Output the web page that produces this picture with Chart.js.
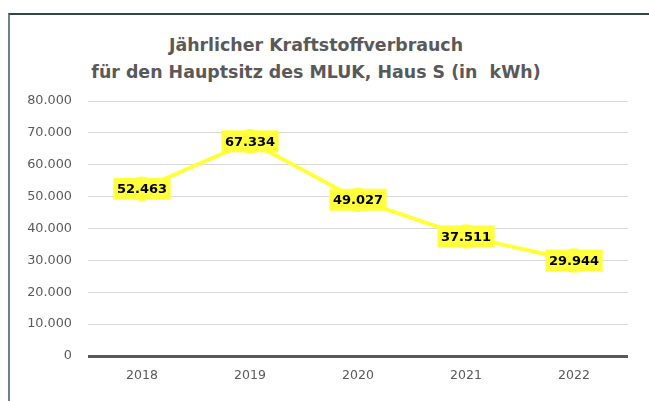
<!DOCTYPE html>
<html><head><meta charset="utf-8">
<script src="https://cdn.jsdelivr.net/npm/chart.js@4"></script>
<style>
html,body{margin:0;padding:0;background:#fff;width:649px;height:401px;overflow:hidden;}
#frame{position:absolute;left:8px;top:13px;width:660px;height:420px;border-top:2px solid #34454d;border-left:2px solid #6b818c;}
#title{position:absolute;left:0;top:32px;width:632px;text-align:center;font-family:"DejaVu Sans",sans-serif;font-weight:bold;font-size:17.4px;line-height:27px;color:#595959;white-space:pre;}
#wrap{position:absolute;left:0;top:0;width:649px;height:401px;}
</style></head>
<body>
<div id="frame"></div>
<div id="title">Jährlicher Kraftstoffverbrauch
für den Hauptsitz des MLUK, Haus S (in  kWh)</div>
<div id="wrap"><canvas id="c" width="649" height="401"></canvas></div>
<script>
const categories = ['2018','2019','2020','2021','2022'];
const values = [52463, 67334, 49027, 37511, 29944];
const yTicks = [0,10000,20000,30000,40000,50000,60000,70000,80000];

function fmt(v){ return v===0 ? '0' : v.toLocaleString('de-DE'); }

const labelPlugin = {
  id:'boxLabels',
  afterDatasetsDraw(chart){
    const ctx = chart.ctx;
    const meta = chart.getDatasetMeta(0);
    ctx.save();
    ctx.font = 'bold 13px "DejaVu Sans", sans-serif';
    ctx.textAlign='center'; ctx.textBaseline='middle';
    meta.data.forEach((pt,i)=>{
      const t = fmt(values[i]);
      const w = ctx.measureText(t).width + 7;
      const h = 22;
      ctx.fillStyle = '#ffff3b';
      ctx.fillRect(pt.x - w/2, pt.y - h/2, w, h);
      ctx.fillStyle = '#000';
      ctx.fillText(t, pt.x, pt.y + 1);
    });
    ctx.restore();
  }
};

new Chart(document.getElementById('c'), {
  type:'line',
  data:{labels:categories, datasets:[{
    data:values,
    borderColor:'#ffff3b', borderWidth:4,
    pointRadius:11.5, pointBackgroundColor:'#d9d9d9', pointBorderColor:'#ffff3b', pointBorderWidth:1.5,
    tension:0, fill:false
  }]},
  options:{
    responsive:false, animation:false,
    layout:{padding:{left:0,right:21,top:101,bottom:0}},
    plugins:{legend:{display:false}, tooltip:{enabled:false}, title:{display:false}},
    scales:{
      x:{
        offset:true,
        grid:{display:false, drawTicks:false},
        border:{display:false},
        ticks:{padding:12, color:'#595959', font:{family:'"DejaVu Sans", sans-serif', size:12.5}},
        afterFit(s){ s.height = 45; }
      },
      y:{
        min:0, max:80000,
        afterBuildTicks(s){ s.ticks = yTicks.map(v=>({value:v})); },
        grid:{drawTicks:false,
          color:(c)=> c.tick && c.tick.value===0 ? '#595959' : '#d9d9d9',
          lineWidth:(c)=> c.tick && c.tick.value===0 ? 3 : 1},
        border:{display:false},
        ticks:{padding:16, color:'#595959', font:{family:'"DejaVu Sans", sans-serif', size:12.8}, callback:(v)=>fmt(v)},
        afterFit(s){ s.width = 88; }
      }
    }
  },
  plugins:[labelPlugin]
});
</script>
</body></html>
